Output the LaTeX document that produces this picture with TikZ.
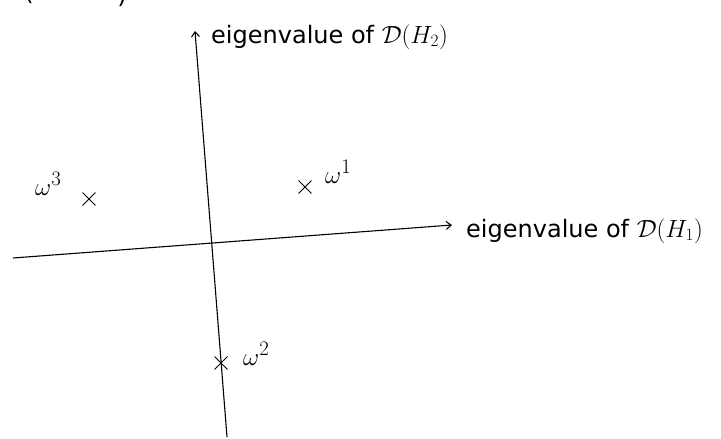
\documentclass[tikz,border=0pt]{standalone}
\usepackage{fontspec}
\setmainfont{DejaVu Sans}
\usetikzlibrary{positioning}
\usetikzlibrary{arrows.meta}
\usetikzlibrary{shapes.misc}

\tikzset{
  axis/.style={line width=1.1pt, -{Straight Barb[length=5pt,width=8pt]}},
  eigpt/.style={draw, cross out, line width=0.9pt, minimum size=12pt, inner sep=0pt},
  axlabel/.style={font=\fontsize{24}{28}\selectfont, inner sep=0pt, anchor=base west},
  wlabel/.style={font=\fontsize{32}{36}\selectfont, inner sep=0pt, anchor=base west},
}

\begin{document}
\begin{tikzpicture}[x=1pt, y=-1pt]
    \useasboundingbox (0,0) rectangle (721,439);

    % leftover of the line above
    \node[axlabel, anchor=base] (lp) at (29,1) {(};
    \node[axlabel, anchor=base] (rp) at (122,3) {)};

    % axes
    \coordinate (xl) at (13,258);
    \coordinate (xr) at (452,225);
    \coordinate (yb) at (227,437);
    \coordinate (yt) at (195,31);
    \draw[axis] (xl) -- (xr);
    \draw[axis] (yb) -- (yt);

    \node[axlabel] (ylab) at (211,43) {eigenvalue of $\mathcal{D}(H_2)$};
    \node[axlabel] (xlab) at (466,237) {eigenvalue of $\mathcal{D}(H_1)$};

    % the three points
    \node[eigpt] (c1) at (305,187) {};
    \node[eigpt] (c2) at (221,363) {};
    \node[eigpt] (c3) at (89,199) {};

    \node[wlabel] (w1) at (325,183) {$\omega^1$};
    \node[wlabel] (w2) at (243,365) {$\omega^2$};
    \node[wlabel] (w3) at (35,195) {$\omega^3$};
\end{tikzpicture}
\end{document}
